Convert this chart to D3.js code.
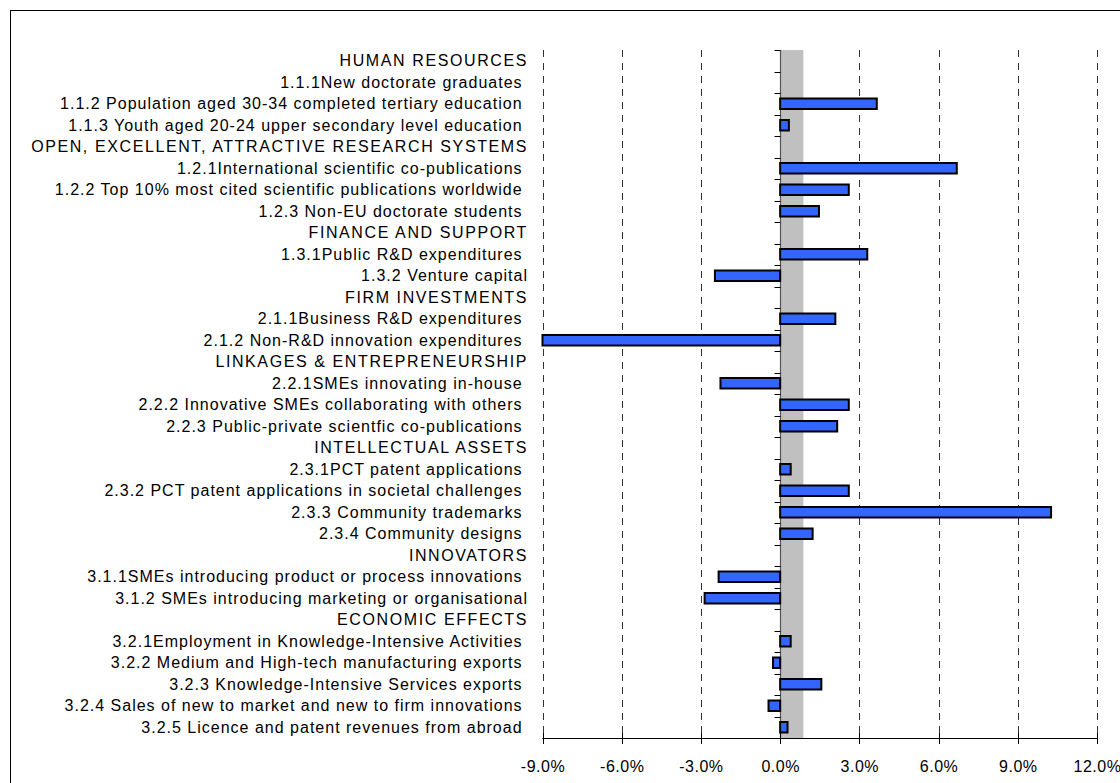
<!DOCTYPE html>
<html>
<head>
<meta charset="utf-8">
<script src="https://cdn.jsdelivr.net/npm/d3@7"></script>
<style>
  html, body { margin: 0; padding: 0; background: #fff; }
  svg { display: block; font-family: "Liberation Sans", Arial, sans-serif; }
  .lbl { white-space: pre; }
</style>
</head>
<body>
<svg id="chart" width="1120" height="783"></svg>
<script>
// ---- data ----
const categories = [
  "HUMAN RESOURCES",
  "1.1.1New doctorate graduates ",
  "1.1.2 Population aged 30-34 completed tertiary education ",
  "1.1.3 Youth aged 20-24 upper secondary level education ",
  "OPEN, EXCELLENT, ATTRACTIVE RESEARCH SYSTEMS",
  "1.2.1International scientific co-publications ",
  "1.2.2 Top 10% most cited scientific publications worldwide ",
  "1.2.3 Non-EU doctorate students ",
  "FINANCE AND SUPPORT",
  "1.3.1Public R&D expenditures ",
  "1.3.2 Venture capital",
  "FIRM INVESTMENTS",
  "2.1.1Business R&D expenditures ",
  "2.1.2 Non-R&D innovation expenditures ",
  "LINKAGES & ENTREPRENEURSHIP",
  "2.2.1SMEs innovating in-house ",
  "2.2.2 Innovative SMEs collaborating with others ",
  "2.2.3 Public-private scientfic co-publications ",
  "INTELLECTUAL ASSETS",
  "2.3.1PCT patent applications ",
  "2.3.2 PCT patent applications in societal challenges ",
  "2.3.3 Community trademarks ",
  "2.3.4 Community designs ",
  "INNOVATORS",
  "3.1.1SMEs introducing product or process innovations ",
  "3.1.2 SMEs introducing marketing or organisational",
  "ECONOMIC EFFECTS",
  "3.2.1Employment in Knowledge-Intensive Activities ",
  "3.2.2 Medium and High-tech manufacturing exports ",
  "3.2.3 Knowledge-Intensive Services exports ",
  "3.2.4 Sales of new to market and new to firm innovations ",
  "3.2.5 Licence and patent revenues from abroad "
];
// growth rates (%), null = no bar (section headers / missing)
const values = [
  null, null, 3.66, 0.33,
  null, 6.69, 2.60, 1.47,
  null, 3.30, -2.47,
  null, 2.09, -9.0,
  null, -2.26, 2.60, 2.16,
  null, 0.40, 2.60, 10.26, 1.23,
  null, -2.33, -2.86,
  null, 0.40, -0.27, 1.56, -0.44, 0.28
];
const xTicks = [-9, -6, -3, 0, 3, 6, 9, 12];
const xTickLabels = ["-9.0%", "-6.0%", "-3.0%", "0.0%", "3.0%", "6.0%", "9.0%", "12.0%"];
const bandRange = [0, 0.88]; // shaded reference band (%)

// ---- layout ----
const svg = d3.select("#chart");
const x = d3.scaleLinear().domain([-9, 12]).range([542.5, 1097]);
const y = d3.scaleBand().domain(d3.range(categories.length)).range([50, 738]).padding(0);
const barH = 10.5;
const isHeader = s => s === s.toUpperCase() && !/^\d/.test(s);

// outer border
svg.append("rect").attr("x", 10.5).attr("y", 10.5).attr("width", 1130).attr("height", 800)
  .attr("fill", "none").attr("stroke", "#000").attr("stroke-width", 1);

// gridlines
svg.append("g").selectAll("line").data(xTicks.filter(d => d !== 0)).join("line")
  .attr("x1", d => Math.round(x(d)) + 0.5).attr("x2", d => Math.round(x(d)) + 0.5)
  .attr("y1", 50).attr("y2", 738)
  .attr("stroke", "#333").attr("stroke-width", 1).attr("stroke-dasharray", "7,6");

// shaded band
svg.append("rect")
  .attr("x", x(bandRange[0])).attr("width", x(bandRange[1]) - x(bandRange[0]))
  .attr("y", 50).attr("height", 688).attr("fill", "#c0c0c0");

// y axis (at 0) with ticks on band boundaries
const x0 = Math.round(x(0)) + 0.5;
svg.append("line").attr("x1", x0).attr("x2", x0).attr("y1", 50).attr("y2", 738)
  .attr("stroke", "#555").attr("stroke-width", 1.2);
svg.append("g").selectAll("line").data(d3.range(categories.length)).join("line")
  .attr("x1", x0 - 6).attr("x2", x0)
  .attr("y1", d => Math.round(y(d)) + 0.5).attr("y2", d => Math.round(y(d)) + 0.5)
  .attr("stroke", "#000").attr("stroke-width", 1);

// bars
const barData = values.map((v, i) => ({ i, v })).filter(d => d.v !== null);
svg.append("g").selectAll("rect").data(barData).join("rect")
  .attr("x", d => x(Math.min(0, d.v)))
  .attr("width", d => Math.abs(x(d.v) - x(0)))
  .attr("y", d => y(d.i) + y.bandwidth() / 2 - barH / 2)
  .attr("height", barH)
  .attr("fill", "#3366ff").attr("stroke", "#000").attr("stroke-width", 2);

// category labels
svg.append("g").selectAll("text").data(categories).join("text")
  .attr("class", "lbl")
  .attr("x", 528)
  .attr("y", (d, i) => y(i) + y.bandwidth() / 2)
  .attr("dy", "0.35em")
  .attr("text-anchor", "end")
  .attr("font-size", 16)
  .attr("letter-spacing", d => isHeader(d) ? 1.6 : 1.0)
  .attr("fill", "#000")
  .text(d => d);

// x axis
const xAxis = d3.axisBottom(x).tickValues(xTicks).tickSize(0).tickFormat((d, i) => xTickLabels[i]);
const gx = svg.append("g").attr("transform", "translate(0,738)").call(xAxis);
gx.select(".domain").remove();
gx.selectAll(".tick text").attr("font-size", 16).attr("letter-spacing", 0.5)
  .attr("font-family", "Liberation Sans, Arial, sans-serif").attr("fill", "#000").attr("y", 23);
svg.append("line").attr("x1", x(-9)).attr("x2", x(12)).attr("y1", 738.5).attr("y2", 738.5)
  .attr("stroke", "#000").attr("stroke-width", 1);
svg.append("g").selectAll("line").data(xTicks).join("line")
  .attr("x1", d => Math.round(x(d)) + 0.5).attr("x2", d => Math.round(x(d)) + 0.5)
  .attr("y1", 733).attr("y2", 744)
  .attr("stroke", "#000").attr("stroke-width", 1);
</script>
</body>
</html>
